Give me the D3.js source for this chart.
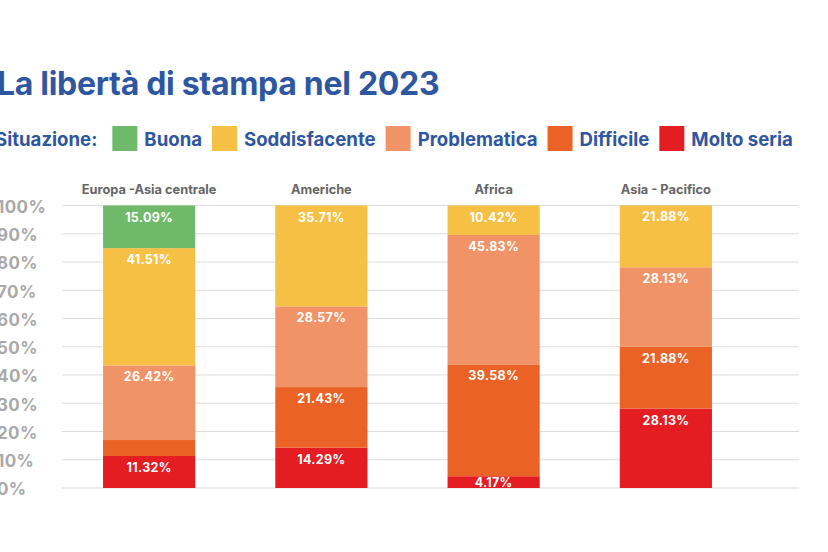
<!DOCTYPE html>
<html>
<head>
<meta charset="utf-8">
<script src="https://cdn.jsdelivr.net/npm/d3@7"></script>
<style>
  html, body { margin: 0; padding: 0; background: #fff; }
  svg { display: block; }
  text { font-family: "Inter", "Roboto", sans-serif; }
</style>
</head>
<body>
<svg id="chart" width="828" height="552"></svg>
<script>
// ---- data ----
const title = "La libertà di stampa nel 2023";
const legendTitle = "Situazione:";
const categories = ["Europa -Asia centrale", "Americhe", "Africa", "Asia - Pacifico"];
const seriesNames = ["Buona", "Soddisfacente", "Problematica", "Difficile", "Molto seria"];
const buona = [15.09, 0, 0, 0];
const soddisfacente = [41.51, 35.71, 10.42, 21.88];
const problematica = [26.42, 28.57, 45.83, 28.13];
const difficile = [5.66, 21.43, 39.58, 21.88];
const moltoSeria = [11.32, 14.29, 4.17, 28.13];
const seriesColors = ["#6fb96a", "#f5c044", "#f09467", "#eb6226", "#e31d22"];
const yTicks = [0, 10, 20, 30, 40, 50, 60, 70, 80, 90, 100];
// labels not printed in the original (category index, series name)
const hiddenLabels = [[0, "Difficile"]];

const seriesValues = [buona, soddisfacente, problematica, difficile, moltoSeria];
const rows = categories.map((c, i) => {
  const r = { cat: c };
  seriesNames.forEach((s, j) => r[s] = seriesValues[j][i]);
  return r;
});
// stack bottom-up: Molto seria at bottom
const stackOrder = seriesNames.slice().reverse();
const stacked = d3.stack().keys(stackOrder)(rows);
const color = d3.scaleOrdinal().domain(seriesNames).range(seriesColors);

const svg = d3.select("#chart");
const blue = "#2f56a0";

// title
svg.append("text").attr("x", -3).attr("y", 95)
  .attr("font-size", 32).attr("font-weight", 700).attr("fill", blue)
  .attr("letter-spacing", -0.3)
  .text(title);

// legend
const lg = svg.append("g");
const lt = lg.append("text").attr("x", -5).attr("y", 146)
  .attr("font-size", 18.6).attr("font-weight", 700).attr("fill", blue)
  .text(legendTitle);
let lx = lt.node().getComputedTextLength() - 5 + 15;
seriesNames.forEach((s) => {
  lg.append("rect").attr("x", lx).attr("y", 126).attr("width", 25).attr("height", 25)
    .attr("fill", color(s));
  const t = lg.append("text").attr("x", lx + 32).attr("y", 146)
    .attr("font-size", 18.6).attr("font-weight", 700).attr("fill", blue).text(s);
  lx = lx + 32 + t.node().getComputedTextLength() + 10;
});

// scales
const y = d3.scaleLinear().domain([0, 100]).range([488, 205.5]);
const x = d3.scaleBand().domain(categories).range([63, 752]).paddingInner(0.465).paddingOuter(0.2325);
const gridX0 = 62, gridX1 = 799;

// gridlines
svg.append("g").selectAll("line").data(yTicks).join("line")
  .attr("x1", gridX0).attr("x2", gridX1)
  .attr("y1", d => y(d)).attr("y2", d => y(d))
  .attr("stroke", "#dcdcdc").attr("stroke-width", 1.2);

// y axis labels
const yAxis = d3.axisLeft(y).tickValues(yTicks).tickFormat(d => d + "%").tickSize(0).tickPadding(0);
const ya = svg.append("g").call(yAxis);
ya.select(".domain").remove();
ya.selectAll("text")
  .attr("x", -3).attr("dy", "0.4em")
  .attr("text-anchor", "start")
  .attr("font-family", "Roboto, sans-serif")
  .attr("font-size", 17).attr("font-weight", 700)
  .attr("letter-spacing", 0.4)
  .attr("fill", "#a9a9a9");

// category headers
svg.append("g").selectAll("text").data(categories).join("text")
  .attr("x", d => x(d) + x.bandwidth() / 2).attr("y", 194)
  .attr("text-anchor", "middle")
  .attr("font-size", 12.8).attr("font-weight", 700).attr("fill", "#666")
  .text(d => d);

// bars
const layers = svg.append("g").selectAll("g").data(stacked).join("g")
  .attr("fill", d => color(d.key));
layers.selectAll("rect").data(d => d.map(v => ({ key: d.key, v }))).join("rect")
  .attr("x", d => x(d.v.data.cat))
  .attr("width", x.bandwidth())
  .attr("y", d => y(d.v[1]))
  .attr("height", d => y(d.v[0]) - y(d.v[1]));

// value labels
const labelData = [];
stacked.forEach(layer => {
  layer.forEach((v, i) => {
    const val = v[1] - v[0];
    if (val <= 0) return;
    if (hiddenLabels.some(h => h[0] === i && h[1] === layer.key)) return;
    labelData.push({ key: layer.key, cat: v.data.cat, val, top: y(v[1]), bottom: y(v[0]) });
  });
});
svg.append("g").selectAll("text").data(labelData).join("text")
  .attr("x", d => x(d.cat) + x.bandwidth() / 2)
  .attr("y", d => Math.min(d.top + 16, d.bottom - 1.5))
  .attr("text-anchor", "middle")
  .attr("font-family", "Roboto, sans-serif")
  .attr("font-size", 12.5).attr("font-weight", 700).attr("fill", "#fff")
  .attr("letter-spacing", 0.3)
  .text(d => d.val.toFixed(2) + "%");
</script>
</body>
</html>
